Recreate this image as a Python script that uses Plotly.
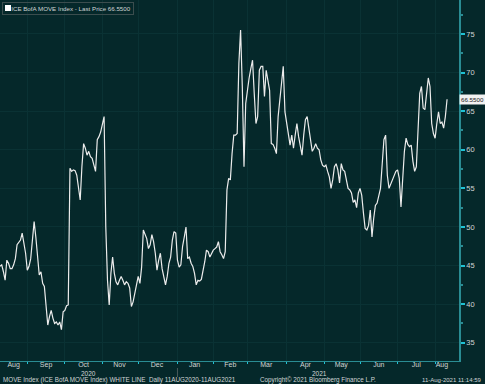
import pandas as pd
import plotly.graph_objects as go

# MOVE index daily values, 11 Aug 2020 -> 11 Aug 2021
move_values = [
    44.9, 45.1, 44.2, 43.1, 45.7, 45.3, 44.6, 44.6, 45.1, 45.9, 47.7, 48.0, 48.3, 49.2, 47.9, 46.6, 44.4, 44.9, 45.9,
    47.9, 50.7, 48.7, 45.7, 43.8, 44.2, 42.7, 42.3, 39.2, 37.3, 38.4, 39.2, 38.2, 37.5, 37.7, 37.3, 37.7, 36.7, 39.0,
    39.2, 39.8, 39.9, 57.6, 57.2, 57.4, 57.3, 56.7, 54.8, 53.5, 57.8, 60.8, 60.2, 59.3, 59.8, 59.1, 58.9, 58.2, 57.2,
    61.3, 61.7, 62.3, 63.4, 64.3, 50.0, 43.1, 39.9, 44.0, 46.1, 44.0, 42.9, 42.5, 43.1, 43.6, 43.1, 42.5, 42.9, 42.7,
    42.1, 39.7, 40.3, 41.4, 42.5, 43.6, 42.7, 44.8, 49.6, 49.1, 48.5, 47.2, 47.7, 49.0, 48.1, 46.6, 44.4, 45.7, 46.6,
    44.6, 43.3, 42.5, 43.6, 45.3, 46.1, 48.3, 49.4, 49.2, 45.7, 44.8, 45.1, 47.5, 48.7, 50.0, 45.9, 46.1, 45.3,
    44.9, 44.0, 42.5, 43.1, 43.0, 43.2, 44.2, 45.5, 47.0, 46.8, 46.1, 46.6, 47.0, 47.2, 47.4, 48.1, 46.8, 46.4, 45.9,
    46.8, 54.8, 56.3, 56.1, 59.5, 61.9, 61.9, 62.1, 71.2, 75.5, 68.2, 57.8, 66.0, 68.0, 69.3, 70.5, 71.6, 67.3, 63.4,
    64.3, 70.3, 70.8, 70.8, 66.9, 70.3, 69.0, 67.7, 60.8, 60.7, 60.2, 59.5, 64.3, 66.7, 68.6, 70.8, 64.9, 63.6, 62.1,
    60.6, 61.9, 60.2, 61.9, 63.4, 61.7, 60.2, 59.3, 61.9, 63.9, 64.3, 62.8, 61.0, 59.8, 60.2, 60.8, 60.2, 60.0, 58.7,
    58.0, 57.8, 58.0, 57.2, 56.5, 55.0, 56.1, 57.8, 58.2, 57.4, 55.7, 58.2, 57.4, 57.2, 55.9, 55.0, 54.8, 54.4, 53.2,
    53.5, 52.5, 54.4, 55.0, 54.1, 51.8, 49.8, 49.6, 50.2, 52.2, 48.7, 51.1, 52.8, 53.1, 54.1, 55.0, 58.2, 61.3, 61.9,
    56.7, 55.0, 55.6, 56.1, 56.7, 57.2, 57.4, 56.3, 52.6, 56.9, 59.8, 61.5, 60.7, 60.4, 60.6, 58.5, 57.2, 57.8, 62.1,
    67.3, 68.2, 65.4, 65.2, 66.9, 69.3, 68.2, 63.4, 62.1, 61.5, 63.4, 64.9, 63.4, 63.6, 62.8, 64.3, 66.55,
]
last_price = 66.55
y_ticks = [35, 40, 45, 50, 55, 60, 65, 70, 75]
month_names = ["Aug", "Sep", "Oct", "Nov", "Dec", "Jan", "Feb", "Mar", "Apr", "May", "Jun", "Jul", "Aug"]
year_labels = ["2020", "2021"]

BG = "#05282a"
GRID = "#0a3234"
AXIS = "#2a8c93"
TICK = "#1fc2d4"
TXT = "#d0d5d5"
FONT = "Liberation Sans"

dates = pd.bdate_range(end="2021-08-11", periods=len(move_values))
s = pd.Series(move_values, index=dates)
PAD_DAYS = 7

# month label positions: middle trading day of each month; month boundaries for ticks/grid
months = s.groupby([dates.year, dates.month])
mid_dates = [g.index[len(g) // 2] for _, g in months]
month_starts = [g.index[0] for _, g in months][1:]

# year label positions: centre of each year's span on the axis
jan_idx = int((dates < pd.Timestamp("2021-01-01")).sum())
year_mid_2020 = dates[jan_idx // 2]
year_mid_2021 = dates[jan_idx] + pd.offsets.BDay((len(dates) + PAD_DAYS - jan_idx) // 2)

fig = go.Figure()
fig.add_trace(go.Scatter(x=dates, y=move_values, mode="lines",
                         line=dict(color="#ececec", width=1.2), showlegend=False))

x_end = dates[-1] + pd.offsets.BDay(PAD_DAYS)

fig.update_layout(
    width=485, height=384,
    margin=dict(l=0, r=26, t=0, b=23),
    paper_bgcolor=BG, plot_bgcolor=BG,
    font=dict(family=FONT, color=TXT, size=7),
    xaxis=dict(
        type="date",
        range=[dates[0], x_end],
        rangebreaks=[dict(bounds=["sat", "mon"])],
        tickmode="array", tickvals=mid_dates, ticktext=month_names[:len(mid_dates)],
        ticks="", showgrid=False, zeroline=False,
        showline=True, linecolor=AXIS, linewidth=1,
        ticklabelstandoff=-3,
        tickfont=dict(size=7, color=TXT, family=FONT),
        minor=dict(tickmode="array", tickvals=month_starts, ticks="outside", ticklen=2,
                   tickcolor=TICK, showgrid=True, gridcolor=GRID, gridwidth=1),
    ),
    yaxis=dict(
        side="right", range=[32.64, 79.4],
        tickmode="array", tickvals=y_ticks,
        ticks="outside", ticklen=4, tickcolor=TICK, tickwidth=1.5,
        showgrid=True, gridcolor=GRID, gridwidth=1, zeroline=False,
        showline=True, linecolor=AXIS, linewidth=1.5,
        tickfont=dict(size=7.5, color=TXT, family=FONT),
        minor=dict(dtick=2.5, ticks="outside", ticklen=2, tickcolor=AXIS, showgrid=False),
    ),
)

# legend box (top-left)
fig.add_annotation(xref="paper", yref="paper", x=0, y=1, xanchor="left", yanchor="top",
                   xshift=2, yshift=-2,
                   text="\u2002\u2002ICE BofA MOVE Index - Last Price 66.5500",
                   showarrow=False, font=dict(size=6.2, color=TXT, family=FONT),
                   bgcolor="rgba(0,0,0,0)", bordercolor="#3b4d4e", borderwidth=1, borderpad=2)
fig.add_shape(type="rect", xref="paper", yref="paper", xsizemode="pixel", ysizemode="pixel",
              xanchor=0, yanchor=1, x0=5, x1=11, y0=-5, y1=-11,
              fillcolor="#ffffff", line=dict(width=0), layer="above")

# last price label
fig.add_annotation(xref="paper", yref="y", x=1, y=last_price, xanchor="left", yanchor="middle",
                   xshift=0, text="66.5500", showarrow=False,
                   font=dict(size=6.2, color="#1a1a1a", family=FONT),
                   bgcolor="#f2f2f2", borderpad=1)

# year labels
fig.add_annotation(xref="x", yref="paper", x=year_mid_2020, y=0, yshift=-12, yanchor="middle",
                   text=year_labels[0], showarrow=False, font=dict(size=6.5, color=TXT, family=FONT))
fig.add_annotation(xref="x", yref="paper", x=year_mid_2021, y=0, yshift=-12, yanchor="middle",
                   text=year_labels[1], showarrow=False, font=dict(size=6.5, color=TXT, family=FONT))
fig.add_shape(type="line", xref="x", yref="paper", ysizemode="pixel", yanchor=0,
              x0=month_starts[4], x1=month_starts[4], y0=-7, y1=-16,
              line=dict(color="#4a5a5b", width=1))

# footer
fig.add_annotation(xref="paper", yref="paper", x=0, y=0, xanchor="left", yanchor="middle", yshift=-19,
                   xshift=1, text="MOVE Index (ICE BofA MOVE Index) WHITE LINE  Daily 11AUG2020-11AUG2021",
                   showarrow=False, font=dict(size=6.3, color=TXT, family=FONT))
fig.add_annotation(xref="paper", yref="paper", x=0.693, y=0, xanchor="center", yanchor="middle", yshift=-19,
                   text="Copyright\u00a9 2021 Bloomberg Finance L.P.",
                   showarrow=False, font=dict(size=6.3, color=TXT, family=FONT))
fig.add_annotation(xref="paper", yref="paper", x=1, y=0, xanchor="right", yanchor="middle", yshift=-19,
                   xshift=24, text="11-Aug-2021 11:14:59",
                   showarrow=False, font=dict(size=6.0, color=TXT, family=FONT))

fig.write_html("out.html", config={"displayModeBar": False},
               post_script="document.body.style.margin='0';document.body.style.background='%s';" % BG)
